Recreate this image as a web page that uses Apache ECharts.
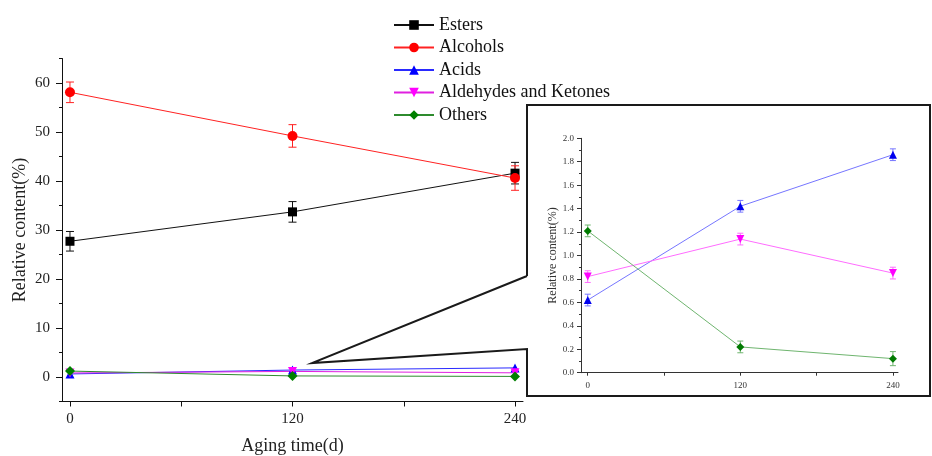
<!DOCTYPE html>
<html>
<head>
<meta charset="utf-8">
<title>Relative content vs aging time</title>
<script src="https://cdn.jsdelivr.net/npm/echarts@6/dist/echarts.min.js"></script>
<style>
html,body{margin:0;padding:0;background:#fff;}
#container{width:932px;height:456px;}
</style>
</head>
<body>
<div id="container"></div>
<script>
// aging time (d)
var days = [0, 120, 240];

// relative content (%) and error
var esters = [27.7, 33.7, 41.6];
var estersErr = [2.0, 2.1, 2.2];
var alcohols = [58.1, 49.2, 40.6];
var alcoholsErr = [2.1, 2.3, 2.5];
var acids = [0.62, 1.42, 1.86];
var acidsErr = [0.05, 0.05, 0.05];
var aldehydes = [0.82, 1.14, 0.85];
var aldehydesErr = [0.05, 0.05, 0.05];
var others = [1.21, 0.22, 0.12];
var othersErr = [0.05, 0.05, 0.06];

// ticks
var xTicks = [0, 60, 120, 180, 240];
var xLabels = [0, 120, 240];
var mainYLabels = [0, 10, 20, 30, 40, 50, 60];
var mainYMinor = [-5, 5, 15, 25, 35, 45, 55, 65];

var FONT = 'Liberation Serif';

function pts(vals){
	return days.map(function(d, i){ return [d, vals[i]]; });
}

// 误差棒
function errSeries(vals, errs, xi, yi, color, cap){
	return {
		type: 'custom',
		xAxisIndex: xi,
		yAxisIndex: yi,
		silent: true,
		z: 1,
		data: days.map(function(d, i){ return [d, vals[i] - errs[i], vals[i] + errs[i]]; }),
		encode: { x: 0, y: [1, 2] },
		renderItem: function(params, api){
			var lo = api.coord([api.value(0), api.value(1)]);
			var hi = api.coord([api.value(0), api.value(2)]);
			var st = { stroke: color, lineWidth: 1 };
			return {
				type: 'group',
				children: [
					{ type: 'line', shape: { x1: lo[0], y1: lo[1], x2: hi[0], y2: hi[1] }, style: st },
					{ type: 'line', shape: { x1: lo[0] - cap, y1: lo[1], x2: lo[0] + cap, y2: lo[1] }, style: st },
					{ type: 'line', shape: { x1: hi[0] - cap, y1: hi[1], x2: hi[0] + cap, y2: hi[1] }, style: st }
				]
			};
		}
	};
}

function lineSeries(name, vals, xi, yi, symbol, size, lineColor, markColor, rotate){
	return {
		name: name,
		type: 'line',
		xAxisIndex: xi,
		yAxisIndex: yi,
		data: pts(vals),
		symbol: symbol,
		symbolSize: size,
		symbolRotate: rotate || 0,
		z: 3,
		lineStyle: { color: lineColor, width: 1 },
		itemStyle: { color: markColor }
	};
}

var myChart = echarts.init(document.getElementById('container'));

var option = {
	animation: false,
	backgroundColor: '#fff',
	legend: {
		orient: 'vertical',
		left: 388,
		top: 11,
		itemWidth: 40,
		itemHeight: 12,
		itemGap: 4.5,
		data: ['Esters', 'Alcohols', 'Acids', 'Aldehydes and Ketones', 'Others'],
		textStyle: { fontFamily: FONT, fontSize: 18, color: '#111' }
	},
	grid: [
		{ left: 62, top: 58.5, width: 461, height: 343, outerBoundsMode: 'none' },
		{ left: 581, top: 138.3, width: 317, height: 234.4, outerBoundsMode: 'none' }
	],
	xAxis: [
		{
			type: 'value', gridIndex: 0, min: -4.3, max: 244.3,
			axisLine: { show: true, onZero: false, lineStyle: { color: '#111', width: 1 } },
			axisTick: { show: true, length: 5, customValues: xTicks, lineStyle: { color: '#111' } },
			axisLabel: { customValues: xLabels, fontSize: 15, margin: 10, color: '#222', fontFamily: FONT },
			splitLine: { show: false },
			name: 'Aging time(d)', nameLocation: 'middle', nameGap: 36,
			nameTextStyle: { fontSize: 18, color: '#222', fontFamily: FONT }
		},
		{
			type: 'value', gridIndex: 1, min: -5.3, max: 244,
			axisLine: { show: true, onZero: false, lineStyle: { color: '#333', width: 1 } },
			axisTick: { show: true, length: 3, customValues: xTicks, lineStyle: { color: '#333' } },
			axisLabel: { customValues: xLabels, fontSize: 9, margin: 8, color: '#333', fontFamily: FONT },
			splitLine: { show: false }
		}
	],
	yAxis: [
		{
			type: 'value', gridIndex: 0, min: -5, max: 65,
			axisLine: { show: true, onZero: false, lineStyle: { color: '#111', width: 1 } },
			axisTick: { show: true, length: 6, customValues: mainYLabels, lineStyle: { color: '#111' } },
			axisLabel: { customValues: mainYLabels, fontSize: 15, margin: 12, color: '#222', fontFamily: FONT },
			splitLine: { show: false },
			name: 'Relative content(%)', nameLocation: 'middle', nameGap: 33, nameRotate: 90,
			nameTextStyle: { fontSize: 18, color: '#222', fontFamily: FONT }
		},
		{
			type: 'value', gridIndex: 0, min: -5, max: 65, position: 'left', offset: 0,
			axisLine: { show: false, onZero: false },
			axisTick: { show: true, length: 3, customValues: mainYMinor, lineStyle: { color: '#111' } },
			axisLabel: { show: false },
			splitLine: { show: false }
		},
		{
			type: 'value', gridIndex: 1, min: 0, max: 2, interval: 0.2,
			axisLine: { show: true, onZero: false, lineStyle: { color: '#333', width: 1 } },
			axisTick: { show: true, length: 4, lineStyle: { color: '#333' } },
			minorTick: { show: true, splitNumber: 2, length: 2, lineStyle: { color: '#333' } },
			axisLabel: {
				fontSize: 9, margin: 7, color: '#333', fontFamily: FONT,
				formatter: function(v){ return v.toFixed(1); }
			},
			splitLine: { show: false },
			name: 'Relative content(%)', nameLocation: 'middle', nameGap: 22, nameRotate: 90,
			nameTextStyle: { fontSize: 12, color: '#333', fontFamily: FONT }
		}
	],
	graphic: [
		{
			type: 'polyline',
			z: 0,
			shape: { points: [[527, 276], [527, 105], [930, 105], [930, 396], [527, 396], [527, 349], [312, 363], [527, 276]] },
			style: { stroke: '#1a1a1a', lineWidth: 2, fill: null }
		}
	],
	series: [
		// 主图
		lineSeries('Esters', esters, 0, 0, 'rect', 9, '#111', '#000'),
		lineSeries('Alcohols', alcohols, 0, 0, 'circle', 10, '#f22', '#f00'),
		lineSeries('Acids', acids, 0, 0, 'triangle', 9, '#2a2aff', '#00f'),
		lineSeries('Aldehydes and Ketones', aldehydes, 0, 0, 'triangle', 9, '#e020e0', '#f0f', 180),
		lineSeries('Others', others, 0, 0, 'diamond', 10, '#2e8b2e', '#008000'),
		errSeries(esters, estersErr, 0, 0, '#111', 4),
		errSeries(alcohols, alcoholsErr, 0, 0, '#f22', 4),
		// 放大图
		lineSeries('Acids', acids, 1, 2, 'triangle', 8, '#7676ff', '#0000ee'),
		lineSeries('Aldehydes and Ketones', aldehydes, 1, 2, 'triangle', 8, '#ff6cff', '#f0f', 180),
		lineSeries('Others', others, 1, 2, 'diamond', 8, '#6fb56f', '#007a00'),
		errSeries(acids, acidsErr, 1, 2, '#7676ff', 3),
		errSeries(aldehydes, aldehydesErr, 1, 2, '#ff6cff', 3),
		errSeries(others, othersErr, 1, 2, '#6fb56f', 3)
	]
};

myChart.setOption(option);
</script>
</body>
</html>
